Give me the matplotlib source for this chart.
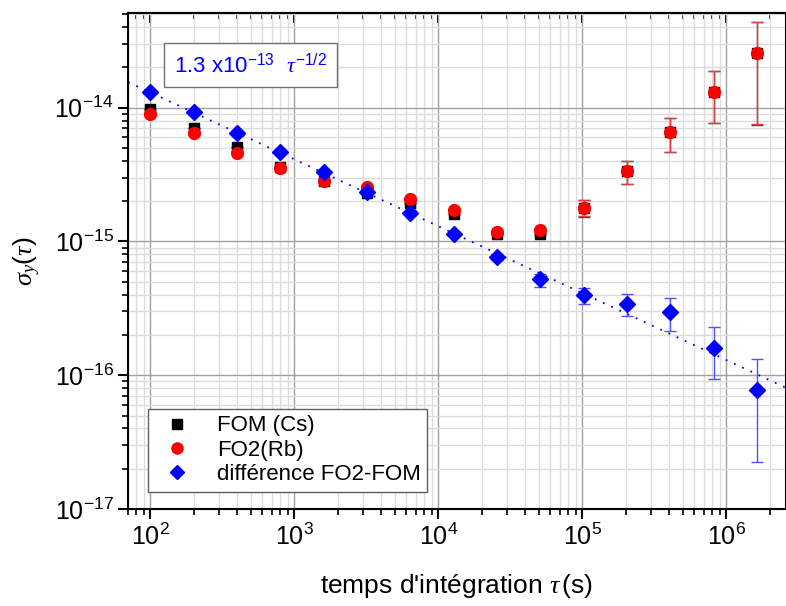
import numpy as np
import matplotlib
matplotlib.use('Agg')
import matplotlib.pyplot as plt
from matplotlib.lines import Line2D
from matplotlib.ticker import LogLocator, NullFormatter, NullLocator

plt.rcParams['font.family'] = ['Liberation Sans', 'DejaVu Sans']
plt.rcParams['mathtext.fontset'] = 'custom'
plt.rcParams['mathtext.rm'] = 'Liberation Sans'
plt.rcParams['mathtext.it'] = 'Liberation Serif:italic'

# integration times (s)
tau = [100, 200, 400, 800, 1600, 3200, 6400, 12800, 25600, 51200,
       102400, 204800, 409600, 819200, 1638400]

# FOM (Cs)
fom = [9.8e-15, 7.1e-15, 5.1e-15, 3.6e-15, 2.85e-15, 2.3e-15, 1.95e-15, 1.6e-15,
       1.14e-15, 1.14e-15, 1.78e-15, 3.37e-15, 6.6e-15, 1.32e-14, 2.57e-14]
fom_lo = [0, 0, 0, 0, 0, 0, 0, 0, 0, 0, 1.53e-15, 2.7e-15, 4.7e-15, 7.7e-15, 7.4e-15]
fom_hi = [0, 0, 0, 0, 0, 0, 0, 0, 0, 0, 2.04e-15, 4.0e-15, 8.4e-15, 1.89e-14, 4.4e-14]

# FO2 (Rb)
fo2 = [9.0e-15, 6.5e-15, 4.6e-15, 3.55e-15, 2.85e-15, 2.56e-15, 2.09e-15, 1.73e-15,
       1.18e-15, 1.22e-15, 1.78e-15, 3.37e-15, 6.6e-15, 1.32e-14, 2.57e-14]
fo2_lo = [0, 0, 0, 0, 0, 0, 0, 0, 0, 0, 1.54e-15, 2.7e-15, 4.7e-15, 7.7e-15, 7.5e-15]
fo2_hi = [0, 0, 0, 0, 0, 0, 0, 0, 0, 0, 2.04e-15, 4.0e-15, 8.4e-15, 1.89e-14, 4.4e-14]

# difference FO2-FOM
diff = [1.32e-14, 9.3e-15, 6.5e-15, 4.7e-15, 3.3e-15, 2.35e-15, 1.64e-15, 1.14e-15,
        7.7e-16, 5.2e-16, 3.95e-16, 3.4e-16, 2.95e-16, 1.6e-16, 7.8e-17]
diff_lo = [0, 0, 0, 0, 0, 0, 0, 1.1e-15, 7.3e-16, 4.6e-16, 3.42e-16, 2.75e-16, 2.15e-16, 9.3e-17, 2.24e-17]
diff_hi = [0, 0, 0, 0, 0, 0, 0, 1.18e-15, 8.1e-16, 5.7e-16, 4.5e-16, 4.06e-16, 3.8e-16, 2.29e-16, 1.33e-16]

fit_coef = 1.3e-13


def yerr(y, lo, hi):
    y = np.array(y)
    lo = np.array(lo)
    hi = np.array(hi)
    lo = np.where(lo > 0, y - lo, 0)
    hi = np.where(hi > 0, hi - y, 0)
    return [lo, hi]


fig = plt.figure(figsize=(7.86, 6.06), dpi=100)
ax = fig.add_axes([0.163, 0.160, 0.837, 0.8185])
ax.set_xscale('log')
ax.set_yscale('log')
ax.set_xlim(70, 2.6e6)
ax.set_ylim(1e-17, 5.1e-14)

ax.grid(True, which='major', color='#a0a0a0', lw=1.0)
ax.grid(True, which='minor', color='#dcdcdc', lw=1.0)
ax.set_axisbelow(True)

# fit line
xf = np.logspace(np.log10(70), np.log10(2.6e6), 200)
ax.plot(xf, fit_coef * xf ** -0.5, ls=(0, (1, 4)), color='blue', lw=1.3, zorder=2)

ax.errorbar(tau, fom, yerr=yerr(fom, fom_lo, fom_hi), fmt='s', color='black',
            ecolor='#404040', elinewidth=1, capsize=4, ms=7, zorder=3)
ax.errorbar(tau, fo2, yerr=yerr(fo2, fo2_lo, fo2_hi), fmt='o', color='red',
            ecolor='#e04040', elinewidth=1, capsize=4, ms=8.5, zorder=4)
ax.errorbar(tau, diff, yerr=yerr(diff, diff_lo, diff_hi), fmt='D', color='blue',
            ecolor='#5050ff', elinewidth=1, capsize=4, ms=8.5, zorder=5)

ax.xaxis.set_major_locator(LogLocator(base=10, numticks=20))
ax.xaxis.set_minor_locator(LogLocator(base=10, subs=np.arange(2, 10), numticks=20))
ax.xaxis.set_minor_formatter(NullFormatter())
ax.yaxis.set_major_locator(LogLocator(base=10, numticks=20))
ax.yaxis.set_minor_locator(LogLocator(base=10, subs=np.arange(2, 10), numticks=20))
ax.yaxis.set_minor_formatter(NullFormatter())

ax.tick_params(which='major', direction='out', length=7, width=1.5, labelsize=18)
ax.tick_params(which='minor', direction='out', length=4, width=1.2)
for s in ax.spines.values():
    s.set_linewidth(1.5)

# mirrored ticks on top pointing inward
top = ax.secondary_xaxis('top')
top.set_xscale('log')
top.xaxis.set_major_locator(LogLocator(base=10, numticks=20))
top.xaxis.set_minor_locator(LogLocator(base=10, subs=np.arange(2, 10), numticks=20))
top.xaxis.set_major_formatter(NullFormatter())
top.xaxis.set_minor_formatter(NullFormatter())
top.tick_params(which='major', direction='in', length=7, width=1.5, labeltop=False)
top.tick_params(which='minor', direction='in', length=4, width=1.2)
top.spines['top'].set_linewidth(1.5)

ax.set_xlabel(r"temps d'intégration $\tau\,$(s)", fontsize=19, labelpad=16)
ax.set_ylabel(r'$\sigma_y(\tau)$', fontsize=19, labelpad=8)

ax.text(0.07, 0.895, r'1.3 x10$^{-13}$  $\tau^{-1/2}$', transform=ax.transAxes,
        fontsize=16, color='blue', va='center', ha='left',
        bbox=dict(boxstyle='square,pad=0.45', fc='white', ec='#707070', lw=1))

handles = [
    Line2D([], [], ls='none', marker='s', color='black', ms=7),
    Line2D([], [], ls='none', marker='o', color='red', ms=8),
    Line2D([], [], ls='none', marker='D', color='blue', ms=7),
]
labels = ['FOM (Cs)', 'FO2(Rb)', 'différence FO2-FOM']
leg = ax.legend(handles, labels, loc='lower left', bbox_to_anchor=(0.03, 0.035),
                fontsize=16, frameon=True, fancybox=False, edgecolor='#606060',
                framealpha=1, handletextpad=0.8, borderpad=0.3, labelspacing=0.15,
                borderaxespad=0)
leg.get_frame().set_linewidth(1)

plt.savefig('out.png', dpi=100)
